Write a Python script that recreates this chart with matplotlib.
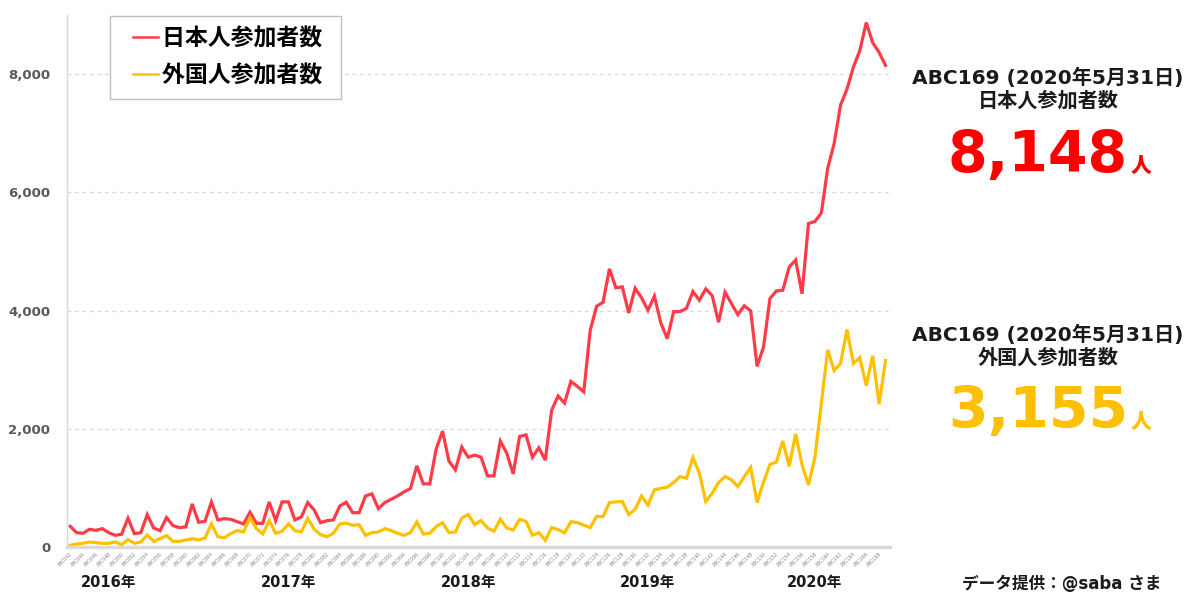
import matplotlib
matplotlib.use("Agg")
import matplotlib.pyplot as plt
from matplotlib.transforms import blended_transform_factory
from matplotlib.legend_handler import HandlerLine2D
from matplotlib.lines import Line2D

plt.rcParams['font.family'] = ['DejaVu Sans', 'Noto Sans CJK JP']

contests = ["ABC%03d" % n for n in range(42, 170)]

japanese = [350, 243, 232, 300, 282, 310, 243, 198, 215, 486,
            226, 243, 548, 322, 277, 497, 362, 328, 339, 729,
            418, 435, 763, 458, 480, 469, 430, 390, 588, 401,
            401, 763, 446, 763, 763, 458, 508, 752, 627, 412,
            446, 458, 695, 757, 582, 580, 864, 898, 650, 751,
            808, 864, 932, 989, 1373, 1068, 1068, 1655, 1960, 1452,
            1305, 1690, 1520, 1554, 1520, 1203, 1203, 1791, 1588, 1237,
            1870, 1898, 1520, 1678, 1470, 2315, 2555, 2435, 2802, 2717,
            2625, 3667, 4073, 4141, 4706, 4384, 4401, 3960, 4378, 4215,
            4005, 4243, 3791, 3525, 3983, 3983, 4039, 4322, 4175, 4367,
            4254, 3802, 4311, 4119, 3932, 4080, 3994, 3056, 3383, 4202,
            4332, 4344, 4736, 4855, 4285, 5472, 5507, 5650, 6409, 6825,
            7478, 7745, 8119, 8398, 8872, 8534, 8368, 8148]

foreign = [28, 51, 62, 85, 73, 62, 62, 85, 40, 124,
           62, 85, 203, 96, 141, 192, 96, 96, 119, 141,
           119, 153, 390, 175, 153, 226, 277, 254, 492, 311,
           220, 446, 232, 266, 390, 277, 254, 486, 300, 209,
           175, 232, 390, 401, 367, 379, 198, 243, 254, 311,
           277, 232, 198, 243, 424, 220, 232, 345, 412, 243,
           254, 492, 548, 379, 446, 322, 266, 469, 322, 288,
           469, 435, 198, 243, 113, 328, 294, 238, 427, 412,
           370, 328, 520, 514, 751, 763, 771, 550, 638, 864,
           712, 966, 994, 1011, 1090, 1192, 1164, 1514, 1249, 768,
           910, 1090, 1192, 1136, 1023, 1190, 1346, 752, 1098, 1395,
           1436, 1792, 1365, 1911, 1395, 1050, 1513, 2420, 3335, 2985,
           3104, 3680, 3104, 3205, 2730, 3235, 2416, 3155]

years = ["2016年", "2017年", "2018年", "2019年", "2020年"]
year_pos = [6, 34, 62, 90, 116]

yticks = [0, 2000, 4000, 6000, 8000]

red = '#FF3B47'
yellow = '#FFC000'

fig = plt.figure(figsize=(11.92, 5.95), dpi=100)
ax = fig.add_axes([67/1192, 1-547/595, (890-67)/1192, (547-15)/595])

x = list(range(len(contests)))
l1, = ax.plot(x, japanese, color=red, lw=2.3, label='日本人参加者数 ', solid_joinstyle='miter')
l2, = ax.plot(x, foreign, color=yellow, lw=2.3, label='外国人参加者数 ', solid_joinstyle='miter')

ax.set_xlim(-0.5, 127.7)
ax.set_ylim(0, 9000)
ax.set_yticks(yticks)
ax.set_yticklabels([f"{v:,}" for v in yticks], fontsize=9.5, fontweight='bold', color='#595959')
ax.tick_params(axis='y', length=0, pad=12)
ax.grid(axis='y', color='#D9D9D9', linestyle=(0, (3, 3)), lw=0.9)
ax.set_axisbelow(True)

ax.set_xticks(x[::2])
ax.set_xticklabels(contests[::2], rotation=45, ha='right', va='top',
                   rotation_mode='anchor', fontsize=3.3, color='#808080')
ax.tick_params(axis='x', length=0, pad=3)

for s in ['top', 'right']:
    ax.spines[s].set_visible(False)
ax.spines['left'].set_color('#D9D9D9')
ax.spines['left'].set_linewidth(1.0)
ax.spines['bottom'].set_color('#D9D9D9')
ax.spines['bottom'].set_linewidth(2.5)

trans = blended_transform_factory(ax.transData, fig.transFigure)
for yl, xp in zip(years, year_pos):
    ax.text(xp, 1-583/595, yl, transform=trans, ha='center', va='center',
            fontsize=10.5, fontweight='bold', color='#1a1a1a')


def upd(handle, orig):
    handle.update_from(orig)
    handle.set_linewidth(1.8)


leg = ax.legend(loc='upper left', bbox_to_anchor=(110/1192, 1-16/595),
                bbox_transform=fig.transFigure,
                prop={'weight': 'bold', 'size': 16.5},
                handlelength=1.6, handletextpad=0.15, borderpad=0.5,
                borderaxespad=0, labelspacing=0.6, fancybox=False,
                edgecolor='#BFBFBF', framealpha=1,
                handler_map={Line2D: HandlerLine2D(xpad=0.52, update_func=upd)})
leg.get_frame().set_linewidth(1.0)

cx = 1048/1192
fig.text(cx, 1-78/595, "ABC169 (2020年5月31日)", ha='center', va='center',
         fontsize=14.5, fontweight='bold', color='#1a1a1a')
fig.text(cx, 1-101/595, "日本人参加者数", ha='center', va='center',
         fontsize=14.5, fontweight='bold', color='#1a1a1a')
fig.text(1128/1192, 1-172/595, f"{japanese[-1]:,}", ha='right', va='baseline',
         fontsize=41, fontweight='bold', color='#FF0000')
fig.text(1131/1192, 1-172/595, "人", ha='left', va='baseline',
         fontsize=15, fontweight='heavy', color='#FF0000')

fig.text(cx, 1-335/595, "ABC169 (2020年5月31日)", ha='center', va='center',
         fontsize=14.5, fontweight='bold', color='#1a1a1a')
fig.text(cx, 1-358/595, "外国人参加者数", ha='center', va='center',
         fontsize=14.5, fontweight='bold', color='#1a1a1a')
fig.text(1128/1192, 1-428/595, f"{foreign[-1]:,}", ha='right', va='baseline',
         fontsize=41, fontweight='bold', color=yellow)
fig.text(1131/1192, 1-428/595, "人", ha='left', va='baseline',
         fontsize=15, fontweight='heavy', color=yellow)

fig.text(1062/1192, 1-584/595, "データ提供：@saba さま", ha='center', va='center',
         fontsize=12, fontweight='bold', color='#1a1a1a')

fig.savefig('out.png', dpi=100)
